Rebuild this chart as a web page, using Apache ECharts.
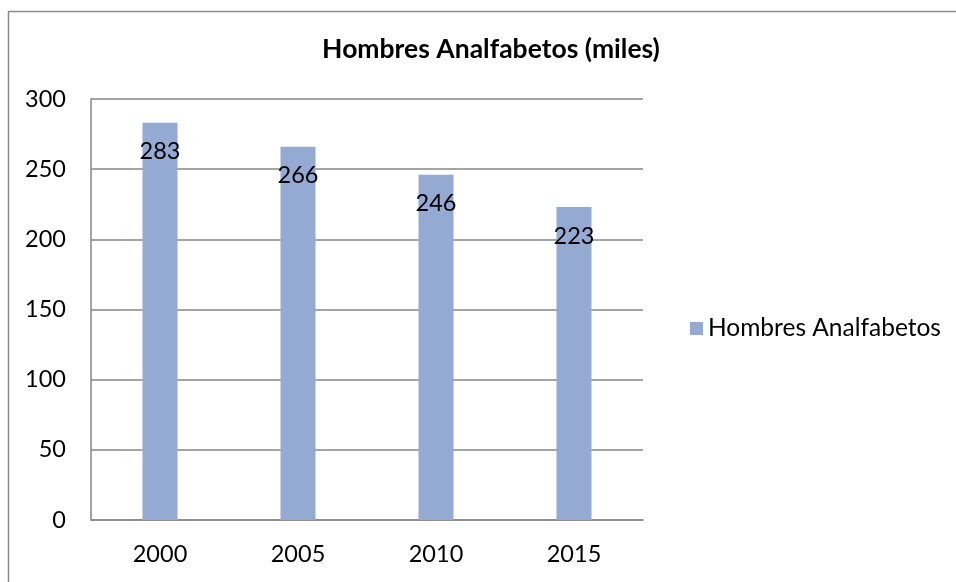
<!DOCTYPE html>
<html>
<head>
<meta charset="utf-8">
<title>Hombres Analfabetos</title>
<script src="https://cdn.jsdelivr.net/npm/echarts@6/dist/echarts.min.js"></script>
<style>
  html, body { margin: 0; padding: 0; background: #fff; }
  #chart { width: 956px; height: 582px; }
</style>
</head>
<body>
<div id="chart"></div>
<script>
// datos del gráfico
var years = ["2000", "2005", "2010", "2015"];
var hombres = [283, 266, 246, 223];
var yTicks = [0, 50, 100, 150, 200, 250, 300];
var seriesName = "Hombres Analfabetos";
var chartTitle = "Hombres Analfabetos (miles)";

var font = "Lato, 'Liberation Sans', sans-serif";
var myChart = echarts.init(document.getElementById("chart"));
myChart.setOption({
  animation: false,
  textStyle: { fontFamily: font },
  // marco exterior
  graphic: [
    {
      type: "rect",
      shape: { x: 8.5, y: 11.5, width: 1000, height: 700 },
      style: { fill: "none", stroke: "#8a8a8a", lineWidth: 1.5 },
      silent: true
    }
  ],
  title: {
    text: chartTitle,
    left: 486,
    textAlign: "center",
    top: 31,
    textStyle: { fontFamily: font, fontSize: 26.5, fontWeight: "bold", color: "#000" }
  },
  legend: {
    data: [seriesName],
    left: 690,
    top: 316,
    padding: 0,
    itemWidth: 13,
    itemHeight: 13,
    itemGap: 5,
    icon: "rect",
    textStyle: { fontFamily: font, fontSize: 24.5, color: "#000" }
  },
  grid: {
    left: 91,
    right: 313,
    top: 99,
    bottom: 62
  },
  xAxis: {
    type: "category",
    data: years,
    axisTick: { show: false },
    axisLine: { lineStyle: { color: "#868686", width: 1.5 } },
    axisLabel: { fontFamily: font, fontSize: 23.5, color: "#000", margin: 22 }
  },
  yAxis: {
    type: "value",
    min: yTicks[0],
    max: yTicks[yTicks.length - 1],
    interval: 50,
    axisTick: { show: false },
    axisLine: { show: true, lineStyle: { color: "#868686", width: 1.5 } },
    splitLine: { lineStyle: { color: "#868686", width: 1.5 } },
    axisLabel: { fontFamily: font, fontSize: 23.5, color: "#000", margin: 25 }
  },
  series: [
    {
      name: seriesName,
      type: "bar",
      data: hombres,
      barWidth: 35,
      itemStyle: { color: "#94aad3" },
      label: {
        show: true,
        position: "insideTop",
        distance: 17,
        fontFamily: font,
        fontSize: 23.5,
        color: "#000"
      }
    }
  ]
});
</script>
</body>
</html>
